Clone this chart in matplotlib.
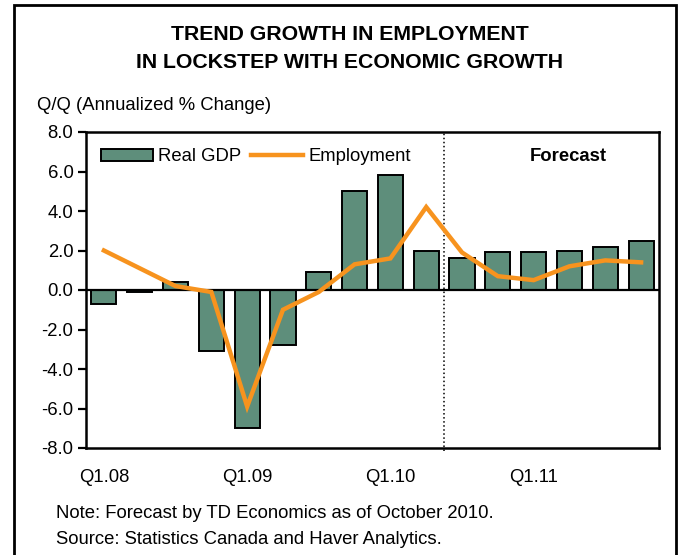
import matplotlib
matplotlib.use("Agg")
import matplotlib.pyplot as plt
from matplotlib.patches import Rectangle

plt.rcParams['font.family'] = ['Liberation Sans', 'DejaVu Sans']
plt.rcParams['axes.unicode_minus'] = False

# quarterly data, Q1.08 through Q4.11 (Q4.10 onwards is forecast)
quarters = ['Q1.08', 'Q2.08', 'Q3.08', 'Q4.08',
            'Q1.09', 'Q2.09', 'Q3.09', 'Q4.09',
            'Q1.10', 'Q2.10', 'Q3.10', 'Q4.10',
            'Q1.11', 'Q2.11', 'Q3.11', 'Q4.11']
real_gdp = [-0.7, -0.1, 0.4, -3.1, -7.0, -2.8, 0.9, 5.0,
            5.8, 2.0, 1.6, 1.9, 1.9, 2.0, 2.2, 2.5]
employment = [2.0, 1.1, 0.2, -0.1, -5.9, -1.0, -0.1, 1.3,
              1.6, 4.2, 1.9, 0.7, 0.5, 1.2, 1.5, 1.4]
forecast_start = 9.5

fs = 13.3

fig = plt.figure(figsize=(6.81, 5.55), dpi=100)
ax = fig.add_axes([86 / 681, 1 - 448 / 555, 573 / 681, 316 / 555])

x = list(range(len(quarters)))
bars = ax.bar(x, real_gdp, width=0.7, color='#5e8e7b', edgecolor='black',
              linewidth=1.4, label='Real GDP', zorder=2)
line, = ax.plot(x, employment, color='#f7931e', linewidth=3.2,
                label='Employment', solid_joinstyle='miter', zorder=3)

ax.axhline(0, color='black', linewidth=1.6, zorder=2.5)
ax.axvline(forecast_start, ymin=-0.01, ymax=1, color='black', linestyle=':',
           linewidth=1.1, clip_on=False, zorder=1)

ax.set_xlim(-0.5, len(quarters) - 0.5)
ax.set_ylim(-8, 8)
ax.set_yticks(range(-8, 9, 2))
ax.set_yticklabels([f'{v:.1f}' for v in range(-8, 9, 2)], fontsize=fs)
ax.set_xticks(x[::4])
ax.set_xticklabels(quarters[::4], fontsize=fs)
ax.tick_params(axis='x', length=0, pad=15)
ax.tick_params(axis='y', length=6, width=1.6, pad=3)
for s in ax.spines.values():
    s.set_linewidth(1.8)

ax.text(0.842, 0.921, 'Forecast', transform=ax.transAxes, ha='center',
        va='center', fontsize=fs, fontweight='bold')

ax.legend([bars, line], ['Real GDP', 'Employment'],
          loc='center left', bbox_to_anchor=(0.026, 0.921), ncol=2,
          frameon=False, fontsize=fs, borderaxespad=0, borderpad=0,
          handlelength=2.8, handleheight=0.6, handletextpad=0.3,
          columnspacing=0.55)

fig.text(350 / 681, 1 - 35 / 555, 'TREND GROWTH IN EMPLOYMENT',
         ha='center', va='center', fontsize=15.3, fontweight='bold')
fig.text(350 / 681, 1 - 63 / 555, 'IN LOCKSTEP WITH ECONOMIC GROWTH',
         ha='center', va='center', fontsize=15.3, fontweight='bold')
fig.text(37 / 681, 1 - 106 / 555, 'Q/Q (Annualized % Change)',
         ha='left', va='center', fontsize=fs)
fig.text(56 / 681, 1 - 513 / 555,
         'Note: Forecast by TD Economics as of October 2010.',
         ha='left', va='center', fontsize=fs)
fig.text(56 / 681, 1 - 539 / 555,
         'Source: Statistics Canada and Haver Analytics.',
         ha='left', va='center', fontsize=fs)

# outer frame around the whole chart, open past the bottom edge
fig.patches.append(Rectangle((14 / 681, -0.05), 662 / 681, 1.05 - 5 / 555,
                             transform=fig.transFigure, fill=False,
                             edgecolor='black', linewidth=2))

fig.savefig('out.png', dpi=100)
